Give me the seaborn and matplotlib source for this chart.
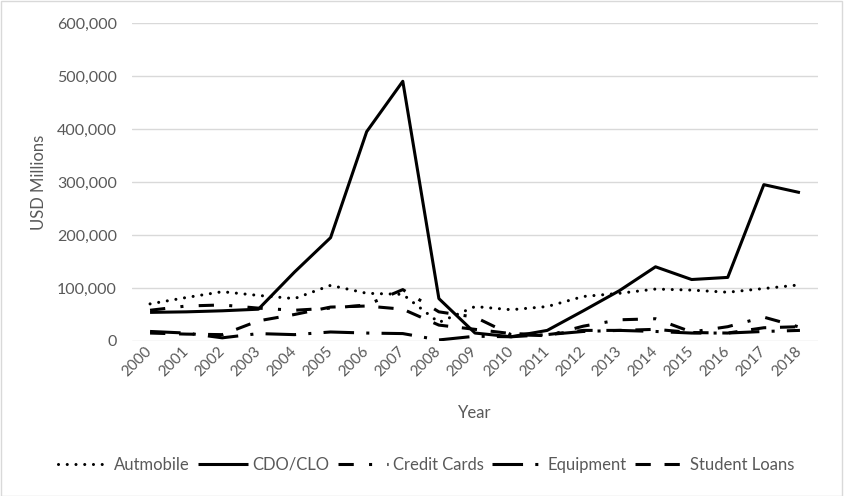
import matplotlib
matplotlib.use('Agg')
import matplotlib.pyplot as plt
import seaborn as sns
from matplotlib.patches import Rectangle
from matplotlib.ticker import FuncFormatter

years = list(range(2000, 2019))

# USD millions
automobile = [70000, 82000, 93000, 86000, 80000, 105000, 90000, 88000, 35000, 65000,
              59000, 65000, 84000, 90000, 98000, 96000, 92000, 99000, 106000]
cdo_clo = [54000, 55000, 57000, 60000, 130000, 195000, 395000, 490000, 80000, 15000,
           8000, 20000, 57000, 95000, 140000, 116000, 120000, 295000, 280000]
credit_cards = [58000, 66000, 68000, 62000, 58000, 62000, 68000, 97000, 55000, 45000,
                12000, 10000, 28000, 40000, 42000, 17000, 27000, 45000, 26000]
equipment = [18000, 15000, 6000, 14000, 12000, 17000, 15000, 14000, 2000, 9000,
             8000, 12000, 18000, 20000, 18000, 15000, 15000, 18000, 20000]
student_loans = [15000, 13000, 12000, 38000, 50000, 64000, 66000, 60000, 30000, 22000,
                 14000, 12000, 20000, 20000, 22000, 16000, 15000, 25000, 27000]

names = ['Autmobile', 'CDO/CLO', 'Credit Cards', 'Equipment', 'Student Loans']
values = [automobile, cdo_clo, credit_cards, equipment, student_loans]

# dash pattern (in line widths) and cap style per series
styles = [((0.01, 2.85), 'round'),
          (None, 'butt'),
          ((5, 5, 1, 5), 'butt'),
          ((10, 4, 1, 4), 'butt'),
          ((5, 4.5), 'butt')]

grey = '#595959'
sns.set_style('white')
plt.rcParams['font.family'] = ['Lato', 'DejaVu Sans']

fig = plt.figure(figsize=(8.44, 4.96), dpi=100)
ax = fig.add_axes([132 / 844, 155 / 496, 686 / 844, 318 / 496])

handles = []
for name, vals, (dash, cap) in zip(names, values, styles):
    sns.lineplot(x=years, y=vals, color='black', linewidth=2.2, ax=ax,
                 label=name, legend=False)
    line = ax.lines[-1]
    if dash is None:
        line.set_linestyle('-')
        line.set_solid_capstyle('butt')
    else:
        line.set_dashes(dash)
        line.set_dash_capstyle(cap)
    handles.append(line)

ax.set_xlim(1999.5, 2018.5)
ax.set_ylim(0, 600000)
ax.set_xticks(years)
ax.set_yticks(range(0, 600001, 100000))
ax.yaxis.set_major_formatter(FuncFormatter(lambda v, p: '{:,.0f}'.format(v)))
ax.grid(axis='y', color='#d9d9d9', linewidth=1)
ax.set_axisbelow(True)
for s in ax.spines.values():
    s.set_visible(False)

ax.tick_params(axis='y', length=0, labelsize=11.5, labelcolor=grey, pad=11)
ax.tick_params(axis='x', length=0, labelsize=11, labelcolor=grey, pad=6)
for lbl in ax.get_xticklabels():
    lbl.set_rotation(45)
    lbl.set_ha('right')
    lbl.set_va('center')
    lbl.set_rotation_mode('anchor')

ax.set_xlabel('Year', fontsize=12, color=grey)
ax.set_ylabel('USD Millions', fontsize=12, color=grey)
ax.xaxis.set_label_coords(0.5, -0.2)
ax.yaxis.set_label_coords(-0.124, 0.5)

fig.legend(handles, names, loc='center', bbox_to_anchor=(0.505, 0.0625),
           ncol=5, frameon=False, fontsize=12, labelcolor=grey,
           handlelength=3.0, handletextpad=0.3, columnspacing=0.5)

fig.patches.append(Rectangle((0.001, 0.001), 0.997, 0.997, transform=fig.transFigure,
                             fill=False, edgecolor='#d9d9d9', linewidth=1))

fig.savefig('out.png', dpi=100)
